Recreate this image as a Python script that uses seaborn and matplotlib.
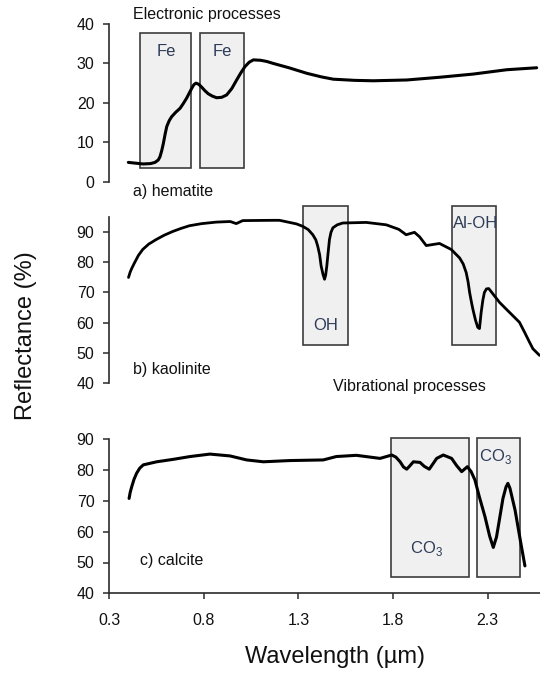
import numpy as np
import pandas as pd
import matplotlib
matplotlib.use("Agg")
import matplotlib.pyplot as plt
from matplotlib.patches import Rectangle
import seaborn as sns

# ---------------- data ----------------
hem_x = [0.402, 0.44, 0.481, 0.52, 0.543, 0.56, 0.569, 0.578, 0.587, 0.596, 0.605, 0.618,
         0.631, 0.652, 0.675, 0.692, 0.710, 0.724, 0.737, 0.748, 0.759, 0.774, 0.789, 0.806,
         0.824, 0.846, 0.868, 0.895, 0.921, 0.948, 0.974, 0.996, 1.018, 1.04, 1.062, 1.10,
         1.133, 1.167, 1.25, 1.344, 1.42, 1.484, 1.60, 1.695, 1.872, 2.048, 2.223, 2.400,
         2.558]
hem_y = [4.9, 4.7, 4.5, 4.6, 4.9, 5.5, 6.3, 7.8, 9.7, 12.0, 14.0, 15.5,
         16.5, 17.6, 18.6, 19.8, 21.2, 22.5, 23.7, 24.6, 25.0, 24.7, 24.0, 23.1,
         22.3, 21.7, 21.3, 21.4, 22.0, 23.6, 25.8, 27.6, 29.2, 30.3, 30.9, 30.8,
         30.5, 30.0, 28.9, 27.5, 26.6, 26.0, 25.7, 25.6, 25.8, 26.5, 27.3, 28.4,
         28.9]

kao_x = [0.403, 0.412, 0.42, 0.435, 0.455, 0.478, 0.51, 0.549, 0.59, 0.637, 0.68, 0.725,
         0.79, 0.866, 0.94, 0.972, 1.006, 1.165, 1.20, 1.253, 1.29, 1.323, 1.352, 1.376,
         1.392, 1.402, 1.412, 1.42, 1.43, 1.438, 1.444, 1.45, 1.457, 1.464, 1.472, 1.482,
         1.505, 1.534, 1.658, 1.764, 1.83, 1.869, 1.913, 1.94, 1.975, 2.045, 2.107, 2.151,
         2.17, 2.186, 2.196, 2.204, 2.213, 2.221, 2.235, 2.247, 2.256, 2.265, 2.274, 2.282,
         2.293, 2.305, 2.33, 2.362, 2.40, 2.432, 2.467, 2.494, 2.52, 2.538, 2.573]
kao_y = [75.0, 76.8, 78.0, 79.9, 82.3, 84.3, 86.1, 87.6, 89.0, 90.3, 91.3, 92.2,
         92.9, 93.4, 93.6, 92.9, 93.9, 94.0, 94.0, 93.3, 92.8, 92.0, 90.9, 89.2,
         87.5, 85.4, 82.6, 78.8, 76.0, 74.4, 75.8, 78.8, 83.3, 87.6, 90.0, 91.5,
         92.5, 93.1, 93.3, 92.5, 91.0, 89.2, 90.0, 88.5, 85.6, 86.3, 84.3, 81.5,
         79.5, 76.6, 73.5, 70.0, 67.0, 64.5, 60.8, 58.4, 58.0, 63.4, 67.5, 70.0,
         71.2, 71.3, 69.3, 66.7, 64.3, 62.3, 60.1, 56.8, 53.5, 51.3, 49.1]

cal_x = [0.406, 0.412, 0.42, 0.432, 0.446, 0.462, 0.481, 0.552, 0.64, 0.728, 0.833, 0.939,
         1.027, 1.115, 1.256, 1.431, 1.50, 1.606, 1.731, 1.793, 1.815, 1.837, 1.855, 1.872,
         1.89, 1.907, 1.942, 1.965, 1.991, 2.01, 2.03, 2.065, 2.109, 2.135, 2.162, 2.192,
         2.212, 2.232, 2.255, 2.285, 2.31, 2.329, 2.346, 2.364, 2.38, 2.396, 2.406, 2.417,
         2.444, 2.470, 2.496]
cal_y = [70.8, 72.8, 74.6, 77.0, 79.0, 80.6, 81.7, 82.7, 83.5, 84.4, 85.2, 84.6,
         83.3, 82.7, 83.1, 83.3, 84.4, 84.8, 83.8, 84.9, 84.2, 82.7, 81.0, 80.3,
         81.5, 82.7, 82.5, 81.2, 80.3, 82.0, 83.8, 84.9, 83.8, 81.5, 79.5, 81.1,
         79.5, 76.8, 71.4, 64.9, 58.5, 54.9, 58.3, 64.9, 70.8, 74.5, 75.7, 74.1,
         67.0, 57.8, 48.9]

# absorption-feature boxes: (x start, x end, y bottom, y top, label)
hem_boxes_x0 = [0.466, 0.783]
hem_boxes_x1 = [0.734, 1.015]
hem_boxes_y = [3.5, 37.7]
hem_box_labels = ["Fe", "Fe"]

kao_boxes_x0 = [1.323, 2.110]
kao_boxes_x1 = [1.561, 2.341]
kao_boxes_y = [52.7, 98.8]
kao_box_labels = ["OH", "Al-OH"]

cal_boxes_x0 = [1.789, 2.241]
cal_boxes_x1 = [2.201, 2.472]
cal_boxes_y = [45.4, 90.3]
cal_box_labels = ["CO$_3$", "CO$_3$"]

x_ticks = [0.3, 0.8, 1.3, 1.8, 2.3]
x_tick_labels = ["0.3", "0.8", "1.3", "1.8", "2.3"]

# ---------------- style ----------------
sns.set_style("ticks")
plt.rcParams['font.family'] = ['Liberation Sans', 'DejaVu Sans']
plt.rcParams['mathtext.fontset'] = 'custom'
plt.rcParams['mathtext.rm'] = 'Liberation Sans'

W, H = 540, 675
fig = plt.figure(figsize=(W / 100, H / 100), dpi=100)

left = 109 / W
right_edge = 1.0
xlim = (0.3, 0.3 + (W - 109) / 189.4)

def make_ax(y_top_px, y_bot_px):
    return fig.add_axes([left, 1 - y_bot_px / H, right_edge - left, (y_bot_px - y_top_px) / H])

ax1 = make_ax(24.0, 181.7)
ax2 = make_ax(217.3, 382.7)
ax3 = make_ax(439.3, 593.3)

spine_col = "#2b2b2b"
box_edge = "#3c3c3c"
box_fill = "#f0f0f0"
box_txt = "#2e3c58"
txt_col = "#111111"

def style_ax(ax, ylim, yticks, show_x):
    ax.set_xlim(*xlim)
    ax.set_ylim(*ylim)
    ax.set_yticks(yticks)
    ax.set_yticklabels([str(t) for t in yticks])
    ax.patch.set_alpha(0)
    for s in ["top", "right"]:
        ax.spines[s].set_visible(False)
    ax.spines["left"].set_color(spine_col)
    ax.spines["left"].set_linewidth(1.2)
    ax.tick_params(axis="y", direction="out", length=4.5, width=1.1, color=spine_col,
                   labelsize=11.5, pad=6, labelcolor=txt_col)
    if show_x:
        ax.spines["bottom"].set_color(spine_col)
        ax.spines["bottom"].set_linewidth(1.2)
        ax.set_xticks(x_ticks)
        ax.set_xticklabels(x_tick_labels)
        ax.tick_params(axis="x", direction="out", length=4, width=1.1, color=spine_col,
                       labelsize=11.5, pad=10, labelcolor=txt_col)
    else:
        ax.spines["bottom"].set_visible(False)
        ax.set_xticks([])
    ax.set_xlabel("")
    ax.set_ylabel("")

def add_boxes(ax, x0s, x1s, yr):
    for a, b in zip(x0s, x1s):
        ax.add_patch(Rectangle((a, yr[0]), b - a, yr[1] - yr[0], facecolor=box_fill,
                               edgecolor=box_edge, linewidth=1.2, zorder=1, clip_on=False))

# boxes
add_boxes(ax1, hem_boxes_x0, hem_boxes_x1, hem_boxes_y)
add_boxes(ax2, kao_boxes_x0, kao_boxes_x1, kao_boxes_y)
add_boxes(ax3, cal_boxes_x0, cal_boxes_x1, cal_boxes_y)

# curves
df_h = pd.DataFrame({"x": hem_x, "y": hem_y})
df_k = pd.DataFrame({"x": kao_x, "y": kao_y})
df_c = pd.DataFrame({"x": cal_x, "y": cal_y})
sns.lineplot(data=df_h, x="x", y="y", ax=ax1, color="black", linewidth=2.2, zorder=3)
sns.lineplot(data=df_k, x="x", y="y", ax=ax2, color="black", linewidth=2.0, zorder=3)
sns.lineplot(data=df_c, x="x", y="y", ax=ax3, color="black", linewidth=2.2, zorder=3)

style_ax(ax1, (0, 40), [0, 10, 20, 30, 40], False)
style_ax(ax2, (40, 95), [40, 50, 60, 70, 80, 90], False)
style_ax(ax3, (40, 90), [40, 50, 60, 70, 80, 90], True)

# box labels
for a, b, lab in zip(hem_boxes_x0, hem_boxes_x1, hem_box_labels):
    ax1.text((a + b) / 2, 33.0, lab, ha="center", va="center", fontsize=12, color=box_txt, zorder=4)
ax2.text((kao_boxes_x0[0] + kao_boxes_x1[0]) / 2, 58.9, kao_box_labels[0], ha="center",
         va="center", fontsize=12, color=box_txt, zorder=4)
ax2.text((kao_boxes_x0[1] + kao_boxes_x1[1]) / 2 + 0.01, 93.0, kao_box_labels[1], ha="center",
         va="center", fontsize=12, color=box_txt, zorder=4)
ax3.text(1.975, 54.6, cal_box_labels[0], ha="center", va="center", fontsize=12, color=box_txt, zorder=4)
ax3.text(2.34, 84.4, cal_box_labels[1], ha="center", va="center", fontsize=12, color=box_txt, zorder=4)

# panel annotations
ax1.text(0.425, 42.3, "Electronic processes", ha="left", va="center", fontsize=11.5,
         color=txt_col, clip_on=False)
ax1.text(0.425, -2.5, "a) hematite", ha="left", va="center", fontsize=11.5, color=txt_col,
         clip_on=False)
ax2.text(0.425, 44.3, "b) kaolinite", ha="left", va="center", fontsize=11.5, color=txt_col,
         clip_on=False)
ax2.text(1.483, 38.6, "Vibrational processes", ha="left", va="center", fontsize=11.5,
         color=txt_col, clip_on=False)
ax3.text(0.464, 50.8, "c) calcite", ha="left", va="center", fontsize=11.5, color=txt_col,
         clip_on=False)

fig.text(0.048, 1 - 336 / H, "Reflectance (%)", rotation=90, ha="center", va="center",
         fontsize=17, color=txt_col)
fig.text(335 / W, 1 - 657 / H, "Wavelength (\u00b5m)", ha="center", va="center",
         fontsize=17, color=txt_col)

fig.savefig("out.png", dpi=100)
